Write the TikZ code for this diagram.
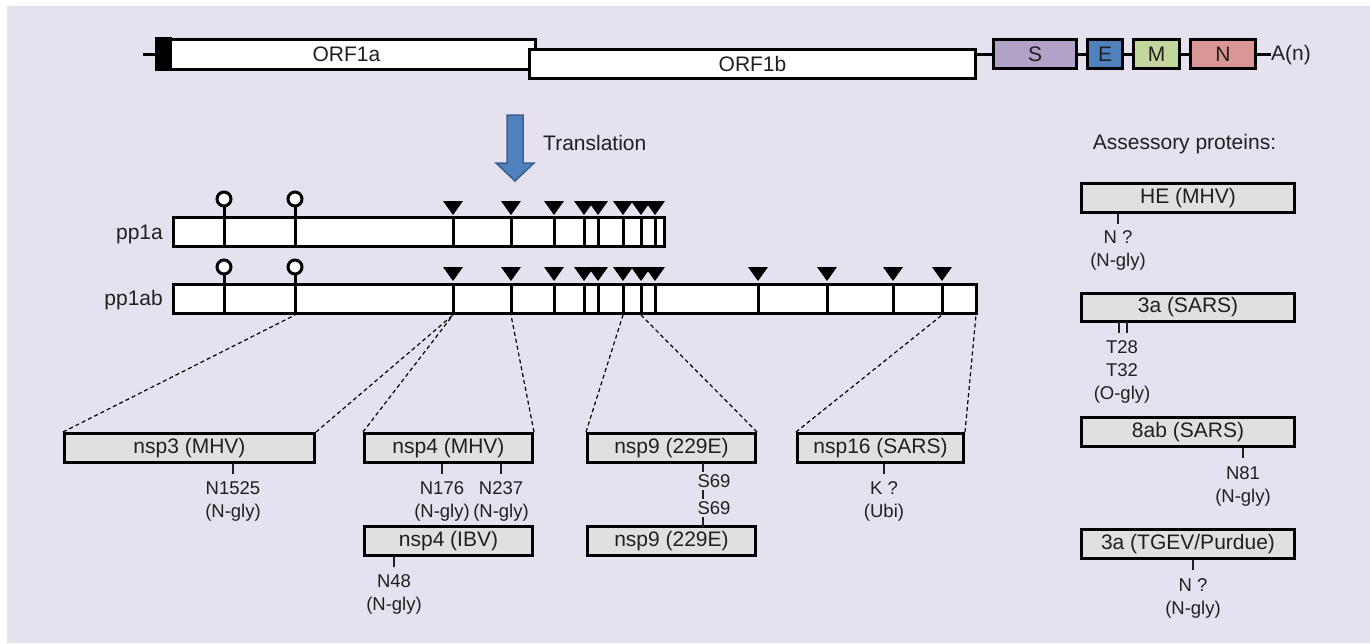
\documentclass[tikz,border=0pt]{standalone}
\usepackage{fontspec}
\setmainfont{Liberation Sans}
\definecolor{bg}{HTML}{E6E1EF}
\definecolor{boxgray}{HTML}{E0E0E0}
\definecolor{txt}{HTML}{231F20}
\definecolor{sc}{HTML}{B3A2C7}
\definecolor{ec}{HTML}{4F81BD}
\definecolor{mc}{HTML}{C3D69B}
\definecolor{nc}{HTML}{D99694}
\definecolor{arrdark}{HTML}{3A6090}
\begin{document}
\begin{tikzpicture}[x=1pt,y=-1pt,line join=miter,
  big/.style={font=\fontsize{21}{25}\selectfont,text=txt},
  small/.style={font=\fontsize{18.5}{23}\selectfont,text=txt,align=center,inner sep=0pt},
  gbox/.style={draw=black,line width=3pt,fill=white,inner sep=0pt,big},
  pbox/.style={draw=black,line width=3pt,fill=boxgray,inner sep=0pt,big,minimum height=29},
  thick3/.style={line width=3pt},
  tick/.style={line width=1.2pt,draw=txt},
  dashcon/.style={line width=1.2pt,dash pattern=on 4pt off 3pt}]
\useasboundingbox (0,0) rectangle (1370,643);
\fill[bg] (7,6) rectangle (1370,643);

% genome
\node[gbox,minimum width=378,minimum height=30] (orf1a) at (346.5,54.5) {ORF1a};
\fill[black] (orf1a.north west) ++(-1.5,-1.5) rectangle (172,70.5);
\coordinate (lead) at (143,54);
\draw[thick3] (lead) -- (lead -| orf1a.west);
\node[gbox,minimum width=446,minimum height=29] (orf1b) at (752.5,64) {ORF1b};
\node[gbox,fill=sc,minimum width=83,minimum height=29] (S) at (1035,54) {S};
\node[gbox,fill=ec,minimum width=35,minimum height=29] (E) at (1105,54) {E};
\node[gbox,fill=mc,minimum width=46,minimum height=29] (M) at (1156.5,54) {M};
\node[gbox,fill=nc,minimum width=65,minimum height=29] (N) at (1223,54) {N};
\node[big,anchor=west,inner sep=0pt] (an) at (1271,55) {A(n)};
\draw[thick3] (orf1b.east |- S.west) -- (S.west);
\draw[thick3] (S.east) -- (E.west);
\draw[thick3] (E.east) -- (M.west);
\draw[thick3] (M.east) -- (N.west);
\draw[thick3] (N.east) -- (an.west |- N.east);

% translation arrow
\filldraw[fill=ec,draw=arrdark,line width=1.5pt] (507,115) -- (523,115) -- (523,163) -- (534,163) -- (515,181) -- (496,163) -- (507,163) -- cycle;
\node[big,anchor=west,inner sep=0pt] (tr) at (543,143) {Translation};

% pp1a
\node[big,anchor=east,inner sep=0pt] (lpp1a) at (163,234) {pp1a};
\draw[thick3,fill=white] (173.5,217.5) rectangle (664,246.5);
\foreach \x in {224,295,453,511,554,584,598,623,641,655}
  \draw[thick3] (\x,217.5) -- (\x,246.5);
\foreach \x in {224,295}{
  \draw[thick3] (\x,206.5) -- (\x,217.5);
  \draw[thick3,fill=white] (\x,199) circle (7);}
\foreach \x in {453,511,554,584,598,623,641,655}
  \fill[black] (\x-10,201) -- (\x+10,201) -- (\x,215) -- cycle;

% pp1ab
\node[big,anchor=east,inner sep=0pt] (lpp1ab) at (163,300) {pp1ab};
\draw[thick3,fill=white] (173.5,284.5) rectangle (976,313.5);
\foreach \x in {224,295,453,511,554,584,598,623,641,655,758,827,893,942}
  \draw[thick3] (\x,284.5) -- (\x,313.5);
\foreach \x in {224,295}{
  \draw[thick3] (\x,274.5) -- (\x,284.5);
  \draw[thick3,fill=white] (\x,267) circle (7);}
\foreach \x in {453,511,554,584,598,623,641,655,758,827,893,942}
  \fill[black] (\x-10,267) -- (\x+10,267) -- (\x,281) -- cycle;

% cut points on pp1ab
\foreach \x in {295,453,511,623,641,942,976}
  \coordinate (c\x) at (\x,315);

% nsp boxes
\node[pbox,minimum width=250] (nsp3) at (189.5,448) {nsp3 (MHV)};
\node[pbox,minimum width=168] (nsp4m) at (448.5,448) {nsp4 (MHV)};
\node[pbox,minimum width=168] (nsp4i) at (448.5,541) {nsp4 (IBV)};
\node[pbox,minimum width=168] (nsp9a) at (671.5,448) {nsp9 (229E)};
\node[pbox,minimum width=168] (nsp9b) at (671.5,541) {nsp9 (229E)};
\node[pbox,minimum width=166] (nsp16) at (880.5,448) {nsp16 (SARS)};

\draw[dashcon] (nsp3.north west) -- (c295);
\draw[dashcon] (nsp3.north east) -- (c453);
\draw[dashcon] (nsp4m.north west) -- (c453);
\draw[dashcon] (nsp4m.north east) -- (c511);
\draw[dashcon] (nsp9a.north west) -- (c623);
\draw[dashcon] (nsp9a.north east) -- (c641);
\draw[dashcon] (nsp16.north west) -- (c942);
\draw[dashcon] (nsp16.north east) -- (c976);

% labels under nsp boxes
\node[small,anchor=north] (l3) at (233,481.5) {N1525\\(N-gly)};
\draw[tick] (l3.north |- nsp3.south) -- ++(0,10);
\node[small,anchor=north] (l176) at (442,481.5) {N176\\(N-gly)};
\draw[tick] (l176.north |- nsp4m.south) -- ++(0,10);
\node[small,anchor=north] (l237) at (501,481.5) {N237\\(N-gly)};
\draw[tick] (l237.north |- nsp4m.south) -- ++(0,10);
\node[small,anchor=north] (l48) at (394,574.5) {N48\\(N-gly)};
\draw[tick] (l48.north |- nsp4i.south) -- ++(0,10);
\node[small,anchor=north] (l16) at (884,481.5) {K ?\\(Ubi)};
\draw[tick] (l16.north |- nsp16.south) -- ++(0,10);
\node[small] (s1) at (714,481) {S69};
\node[small] (s2) at (714,508) {S69};
\draw[tick] (703,462.5) -- (703,472);
\draw[tick] (703,490) -- (703,499);
\draw[tick] (703,517) -- (703,526.5);

% accessory proteins
\node[big,inner sep=0pt] (acc) at (1184.5,144) {Assessory proteins:};
\node[pbox,minimum width=213] (he) at (1188,198) {HE (MHV)};
\node[pbox,minimum width=213,minimum height=28] (sa) at (1188,307.5) {3a (SARS)};
\node[pbox,minimum width=213] (ab) at (1188,432) {8ab (SARS)};
\node[pbox,minimum width=213] (tg) at (1188,544) {3a (TGEV/Purdue)};

\node[small,anchor=north] (lhe) at (1118,230.5) {N ?\\(N-gly)};
\draw[tick] (lhe.north |- he.south) -- ++(0,10);
\node[small,anchor=north] (lsa) at (1122,340.5) {T28\\T32\\(O-gly)};
\draw[tick] (1119,322) -- (1119,333);
\draw[tick] (1127,322) -- (1127,333);
\node[small,anchor=north] (lab) at (1243,466.5) {N81\\(N-gly)};
\draw[tick] (lab.north |- ab.south) -- ++(0,10);
\node[small,anchor=north] (ltg) at (1193,578) {N ?\\(N-gly)};
\draw[tick] (ltg.north |- tg.south) -- ++(0,10);
\end{tikzpicture}
\end{document}
